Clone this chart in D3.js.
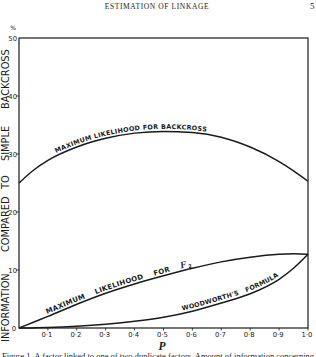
<!DOCTYPE html>
<html>
<head>
<meta charset="utf-8">
<script src="https://cdn.jsdelivr.net/npm/d3@7"></script>
<style>
  html, body { margin: 0; padding: 0; background: #fff; }
  svg { display: block; }
</style>
</head>
<body>
<svg width="316" height="357"></svg>
<script>
// values
const pGrid     = [0, 0.05, 0.1, 0.2, 0.3, 0.4, 0.5, 0.6, 0.7, 0.8, 0.9, 0.95, 1.0]
const backcross = [25.0, 27.2, 28.9, 31.2, 32.7, 33.6, 33.9, 33.7, 32.9, 31.2, 28.7, 27.1, 25.3]
const f2        = [0, 1.0, 2.0, 4.1, 6.0, 7.6, 9.0, 10.3, 11.4, 12.2, 12.7, 12.8, 12.7]
const woodworth = [0, 0.02, 0.08, 0.3, 0.65, 1.15, 1.85, 2.9, 4.3, 5.9, 8.4, 10.3, 12.7]
const xTicks    = [0.1, 0.2, 0.3, 0.4, 0.5, 0.6, 0.7, 0.8, 0.9, 1.0]
const yTicks    = [0, 10, 20, 30, 40, 50]
const yTitleWords = ["INFORMATION", "COMPARED", "TO", "SIMPLE", "BACKCROSS"]
const yTitleStart = [342, 252, 189, 161, 109]   // pixel y where each word begins (reading upward)

const svg = d3.select("svg")
const ink = "#1a1a1a"

const x = d3.scaleLinear().domain([0, 1]).range([19, 308])
const y = d3.scaleLinear().domain([0, 50]).range([328, 38])

// page header
svg.append("text").attr("x", 157).attr("y", 9)
  .attr("text-anchor", "middle")
  .style("font-family", "Liberation Serif").style("font-size", "7.5px")
  .style("letter-spacing", "0.6px").style("fill", ink)
  .text("ESTIMATION OF LINKAGE")
svg.append("text").attr("x", 310).attr("y", 9)
  .style("font-family", "Liberation Serif").style("font-size", "9px").style("fill", ink)
  .text("5")

// frame
svg.append("rect")
  .attr("x", x(0)).attr("y", y(50))
  .attr("width", x(1) - x(0)).attr("height", y(0) - y(50))
  .style("fill", "none").style("stroke", ink).style("stroke-width", 1.2)

// x axis ticks + labels
const fmt = d => d3.format(".1f")(d).replace(".", "·")
const xAxisG = svg.append("g")
xAxisG.selectAll("line").data(xTicks).enter().append("line")
  .attr("x1", d => x(d)).attr("x2", d => x(d))
  .attr("y1", y(0)).attr("y2", y(0) + 2.5)
  .style("stroke", ink).style("stroke-width", 0.8)
xAxisG.selectAll("text").data(xTicks).enter().append("text")
  .attr("x", d => x(d) - 1).attr("y", y(0) + 8.5)
  .attr("text-anchor", "middle")
  .style("font-family", "DejaVu Sans").style("font-size", "6.8px").style("fill", ink)
  .text(fmt)

// y axis ticks + labels
const yAxisG = svg.append("g")
yAxisG.selectAll("line").data(yTicks.filter(d => d > 0 && d < 50)).enter().append("line")
  .attr("x1", x(0) - 3).attr("x2", x(0))
  .attr("y1", d => y(d)).attr("y2", d => y(d))
  .style("stroke", ink).style("stroke-width", 0.8)
yAxisG.selectAll("text").data(yTicks).enter().append("text")
  .attr("x", d => d === 0 ? x(0) - 3 : x(0) - 2)
  .attr("y", d => y(d) + 2.5)
  .attr("text-anchor", "end")
  .style("font-family", "DejaVu Sans").style("font-size", "6.8px").style("fill", ink)
  .text(d => d)

svg.append("text").attr("x", 13).attr("y", 30)
  .attr("text-anchor", "middle")
  .style("font-family", "DejaVu Sans").style("font-size", "6px").style("fill", ink)
  .text("%")

// y title, word by word with wide gaps
svg.append("g").selectAll("text").data(yTitleWords).enter().append("text")
  .attr("transform", (d, i) => `translate(9,${yTitleStart[i]}) rotate(-90)`)
  .style("font-family", "DejaVu Sans").style("font-size", "9.8px").style("fill", ink)
  .text(d => d)

svg.append("text").attr("x", 162).attr("y", 349.5)
  .attr("text-anchor", "middle")
  .style("font-family", "Liberation Serif").style("font-size", "11.5px")
  .style("font-style", "italic").style("font-weight", "bold").style("fill", ink)
  .text("P")

// caption (cut by page edge, as in the source)
svg.append("text").attr("x", 2).attr("y", 359)
  .style("font-family", "Liberation Serif").style("font-size", "8.5px").style("fill", ink)
  .text("Figure 1.  A factor linked to one of two duplicate factors.  Amount of information concerning")

// curves
const line = d3.line()
  .x((d, i) => x(pGrid[i]))
  .y(d => y(d))
  .curve(d3.curveMonotoneX)

const series = [
  { id: "bc", vals: backcross, label: "MAXIMUM LIKELIHOOD FOR BACKCROSS", from: 57, dy: -2.5, ws: 0, fs: 6.4 },
  { id: "f2", vals: f2, label: "MAXIMUM LIKELIHOOD FOR ", sub: "2", from: 48, dy: -2.5, ws: 8, fs: 7 },
  { id: "ww", vals: woodworth, label: "WOODWORTH'S FORMULA", from: 183, dy: -3, ws: 5, fs: 6.4 }
]

series.forEach(s => {
  const path = svg.append("path")
    .attr("id", s.id)
    .attr("d", line(s.vals))
    .style("fill", "none").style("stroke", ink).style("stroke-width", 1.5)

  // length along path where it passes a given pixel x
  const node = path.node()
  const total = node.getTotalLength()
  let lo = 0, hi = total
  for (let k = 0; k < 40; k++) {
    const mid = (lo + hi) / 2
    if (node.getPointAtLength(mid).x < s.from) lo = mid; else hi = mid
  }

  const t = svg.append("text")
    .attr("dy", s.dy)
    .style("font-family", "DejaVu Sans").style("font-size", s.fs + "px")
    .style("font-weight", "bold").style("letter-spacing", "0.25px")
    .style("word-spacing", s.ws + "px").style("fill", ink)
  const tp = t.append("textPath")
    .attr("href", "#" + s.id)
    .attr("startOffset", lo)
    .text(s.label)
  if (s.sub) {
    tp.append("tspan").style("font-style", "italic").style("font-family", "Liberation Serif")
      .style("font-size", "9.5px").text("F")
    tp.append("tspan").attr("dx", 1).attr("dy", 1.5).style("font-size", "5px").text(s.sub)
  }
})
</script>
</body>
</html>
